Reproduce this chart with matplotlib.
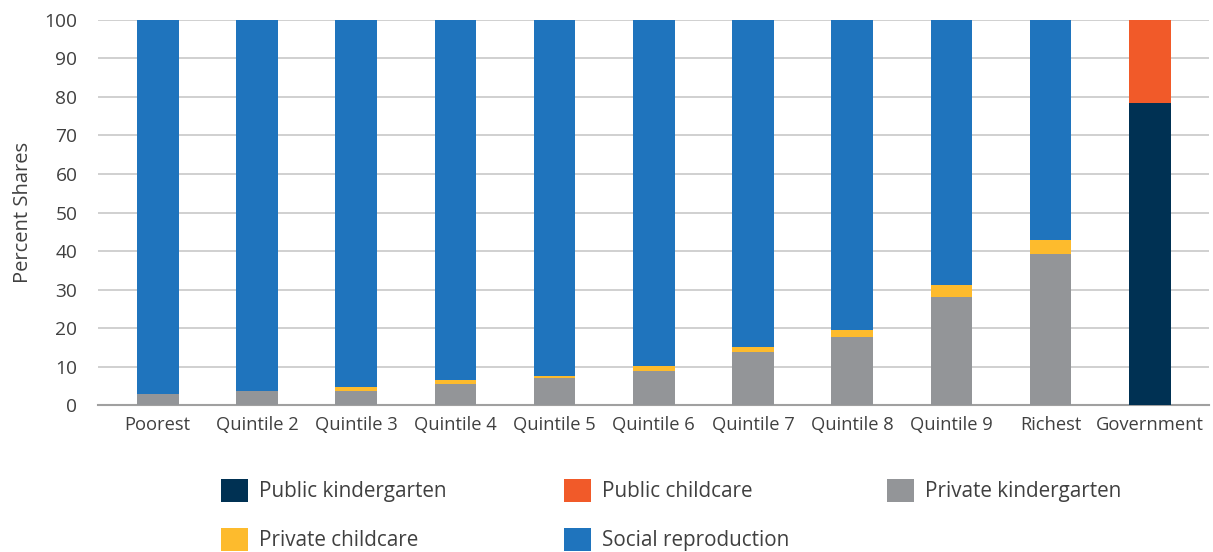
import matplotlib.pyplot as plt
import numpy as np
from matplotlib.patches import Patch

plt.rcParams['font.family'] = ['Open Sans', 'DejaVu Sans']

# shares of childcare by income group (percent)
groups = ['Poorest', 'Quintile 2', 'Quintile 3', 'Quintile 4', 'Quintile 5',
          'Quintile 6', 'Quintile 7', 'Quintile 8', 'Quintile 9', 'Richest',
          'Government']
public_kinder = [0, 0, 0, 0, 0, 0, 0, 0, 0, 0, 78.4]
public_care = [0, 0, 0, 0, 0, 0, 0, 0, 0, 0, 21.6]
private_kinder = [2.8, 3.6, 3.6, 5.5, 7.1, 8.8, 13.8, 17.6, 28.0, 39.2, 0]
private_care = [0.0, 0.2, 1.1, 1.1, 0.5, 1.4, 1.3, 1.9, 3.2, 3.7, 0]
social_repro = [100 - a - b for a, b in zip(private_kinder, private_care)]
social_repro[-1] = 0

series = [
    ('Public kindergarten', public_kinder, '#003153'),
    ('Public childcare', public_care, '#f15a29'),
    ('Private kindergarten', private_kinder, '#939598'),
    ('Private childcare', private_care, '#fdbb2d'),
    ('Social reproduction', social_repro, '#1f74bd'),
]

fig = plt.figure(figsize=(12.13, 5.52), dpi=100)
ax = fig.add_axes([0.081, 0.266, 0.916, 0.698])

x = np.arange(len(groups))
bottom = np.zeros(len(groups))
for name, vals, col in series:
    v = np.array(vals, dtype=float)
    ax.bar(x, v, 0.42, bottom=bottom, color=col, zorder=3, label=name)
    bottom += v

txt = '#404040'
ax.set_ylim(0, 100)
ax.set_xlim(-0.6, 10.6)
ax.set_yticks(np.arange(0, 101, 10))
ax.set_xticks(x)
ax.set_xticklabels(groups)
ax.tick_params(axis='x', length=0, labelsize=13.2, colors=txt, pad=8)
ax.tick_params(axis='y', length=0, labelsize=13.8, colors=txt, pad=15)
ax.grid(axis='y', color='#c8c8c8', linewidth=1.2, zorder=0)
for s in ['top', 'right', 'left']:
    ax.spines[s].set_visible(False)
ax.spines['bottom'].set_color('#a0a0a0')
ax.spines['bottom'].set_linewidth(1.5)
ax.set_ylabel('Percent Shares', fontsize=14.5, color=txt, labelpad=8)

# legend laid out in three columns below the chart
cols = [
    (0.182, [series[0], series[3]]),
    (0.465, [series[1], series[4]]),
    (0.731, [series[2]]),
]
for xpos, items in cols:
    handles = [Patch(facecolor=c) for _, _, c in items]
    labels = [n for n, _, _ in items]
    fig.legend(handles, labels, loc='upper left', bbox_to_anchor=(xpos, 0.132),
               frameon=False, fontsize=14.9, handlelength=1.3, handleheight=1.3,
               handletextpad=0.55, labelspacing=1.25, borderaxespad=0, borderpad=0,
               labelcolor=txt)

fig.savefig('out.png', dpi=100)
